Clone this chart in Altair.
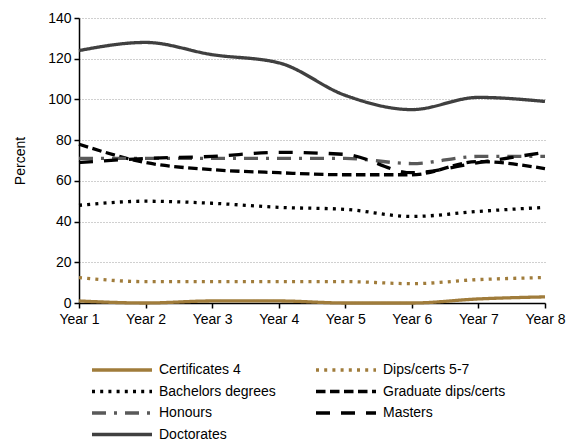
import altair as alt
import pandas as pd

years = ["Year 1", "Year 2", "Year 3", "Year 4", "Year 5", "Year 6", "Year 7", "Year 8"]

series_names = [
    "Certificates 4",
    "Dips/certs 5-7",
    "Bachelors degrees",
    "Graduate dips/certs",
    "Honours",
    "Masters",
    "Doctorates",
]

certificates_4 = [1, 0, 1, 1, 0, 0, 2, 3]
dips_certs_5_7 = [12.5, 10.5, 10.5, 10.5, 10.5, 9.5, 11.5, 12.5]
bachelors = [48, 50, 49, 47, 46, 42.5, 45, 47]
graduate_dips = [78, 69, 65.5, 64, 63, 63, 69.5, 66]
honours = [71, 71, 71, 71, 71, 68.5, 72, 72]
masters = [69, 71, 72, 74, 73, 64, 69, 74]
doctorates = [124, 128, 122, 118, 102, 95, 101, 99]

values = [certificates_4, dips_certs_5_7, bachelors, graduate_dips, honours, masters, doctorates]

colors = ["#A07C3B", "#A07C3B", "#000000", "#000000", "#595959", "#000000", "#404040"]
dashes = [[1, 0], [3, 5.2], [3, 5.2], [9.5, 4.5], [14, 8, 3, 8], [14, 11], [1, 0]]

rows = []
for name, vals in zip(series_names, values):
    for y, v in zip(years, vals):
        rows.append({"Year": y, "Series": name, "Value": v})
df = pd.DataFrame(rows)

FONT = "Liberation Sans"
FS = 14

legend_kw = dict(
    title=None,
    orient="none",
    direction="horizontal",
    legendX=31,
    legendY=340,
    columns=2,
    columnPadding=33,
    rowPadding=2.5,
    symbolType="M-3,0H3",
    symbolSize=400,
    symbolStrokeWidth=3.3,
    labelOffset=25,
)

chart = (
    alt.Chart(df)
    .mark_line(strokeWidth=3.3, interpolate="monotone")
    .encode(
        x=alt.X(
            "Year:N",
            sort=years,
            scale=alt.Scale(type="point", padding=0),
            axis=alt.Axis(
                title=None,
                labelAngle=0,
                domainColor="#000000",
                domainWidth=1.5,
                tickColor="#000000",
                tickSize=5,
                tickWidth=1.5,
                labelPadding=4,
                grid=False,
            ),
        ),
        y=alt.Y(
            "Value:Q",
            scale=alt.Scale(domain=[0, 140], nice=False),
            axis=alt.Axis(
                title="Percent",
                values=[0, 20, 40, 60, 80, 100, 120, 140],
                domainColor="#000000",
                domainWidth=1.5,
                tickColor="#000000",
                tickSize=5,
                tickWidth=1.5,
                labelPadding=3,
                titlePadding=20,
                titleFontWeight="normal",
                gridColor="#A0A0A0",
                gridDash=[1, 2],
                gridWidth=1,
            ),
        ),
        color=alt.Color(
            "Series:N",
            sort=series_names,
            scale=alt.Scale(domain=series_names, range=colors),
            legend=alt.Legend(**legend_kw),
        ),
        strokeDash=alt.StrokeDash(
            "Series:N",
            sort=series_names,
            scale=alt.Scale(domain=series_names, range=dashes),
            legend=alt.Legend(**legend_kw),
        ),
        detail="Series:N",
    )
    .properties(
        width=466,
        height=285,
        autosize="none",
        padding={"left": 71, "top": 10, "right": 31, "bottom": 138},
    )
    .configure_view(stroke=None)
    .configure_axis(labelFont=FONT, titleFont=FONT, labelFontSize=FS, titleFontSize=FS, labelColor="#000000", titleColor="#000000")
    .configure_legend(labelFont=FONT, labelFontSize=FS, labelColor="#000000")
)

chart.save("out.html", embed_options={"renderer": "svg", "actions": False})
